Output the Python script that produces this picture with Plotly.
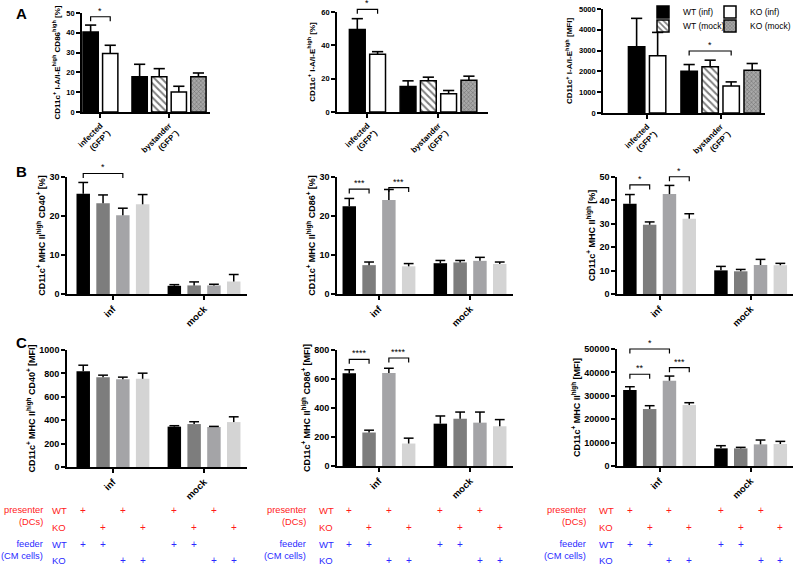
import plotly.graph_objects as go

W, H = 795, 568
FONT = "Liberation Sans, Arial, Helvetica, sans-serif"

# ---------------- data: row A ----------------
A_categories = ["infected<br>(GFP<sup>+</sup>)", "bystander<br>(GFP<sup>−</sup>)"]
A_series = ["WT (inf)", "WT (mock)", "KO (inf)", "KO (mock)"]

A1_means = [[40.4, 17.8], [None, 17.8], [29.5, 10.1], [None, 17.8]]
A1_sem = [[3.5, 6.3], [None, 4.1], [4.2, 2.9], [None, 1.9]]
A2_means = [[49.5, 15.3], [None, 18.7], [34.6, 10.9], [None, 19.1]]
A2_sem = [[6.5, 3.4], [None, 2.2], [1.6, 2.0], [None, 2.4]]
A3_means = [[3180, 2010], [None, 2220], [2750, 1300], [None, 2060]]
A3_sem = [[1370, 320], [None, 320], [1125, 195], [None, 320]]

A_titles = [
    "CD11c<sup>+</sup> I-A/I-E<sup>high</sup> CD86<sup>high</sup> [%]",
    "CD11c<sup>+</sup> I-A/I-E<sup>high</sup> [%]",
    "CD11c<sup>+</sup> I-A/I-E<sup>high</sup> [MFI]",
]

# ---------------- data: rows B and C ----------------
BC_categories = ["inf", "mock"]
BC_presenter = ["WT", "KO", "WT", "KO"]
BC_feeder = ["WT", "WT", "KO", "KO"]

B1_means = [[25.7, 2.1], [23.3, 2.2], [20.2, 2.2], [23.0, 3.2]]
B1_sem = [[2.9, 0.3], [2.1, 0.9], [1.8, 0.3], [2.5, 1.8]]
B2_means = [[22.5, 7.9], [7.4, 8.1], [24.1, 8.5], [7.1, 7.7]]
B2_sem = [[2.0, 0.7], [0.8, 0.5], [2.7, 0.9], [0.7, 0.5]]
B3_means = [[38.6, 10.1], [29.6, 9.7], [42.7, 12.4], [32.2, 12.3]]
B3_sem = [[3.9, 1.7], [1.2, 0.8], [3.7, 2.4], [2.1, 0.8]]
C1_means = [[819, 345], [768, 367], [749, 342], [754, 384]]
C1_sem = [[51, 8], [17, 20], [19, 5], [48, 45]]
C2_means = [[639, 292], [231, 326], [642, 299], [155, 274]]
C2_sem = [[25, 53], [16, 46], [32, 73], [37, 46]]
C3_means = [[32460, 7540], [24340, 7540], [36440, 9250], [26050, 9400]]
C3_sem = [[1420, 1140], [1430, 430], [1990, 1850], [1000, 1130]]

BC_titles = [
    "CD11c<sup>+</sup> MHC II<sup>high</sup> CD40<sup>+</sup> [%]",
    "CD11c<sup>+</sup> MHC II<sup>high</sup> CD86<sup>+</sup> [%]",
    "CD11c<sup>+</sup> MHC II<sup>high</sup> [%]",
    "CD11c<sup>+</sup> MHC II<sup>high</sup> CD40<sup>+</sup> [MFI]",
    "CD11c<sup>+</sup> MHC II<sup>high</sup> CD86<sup>+</sup> [MFI]",
    "CD11c<sup>+</sup> MHC II<sup>high</sup> [MFI]",
]

# significance: (panel, category index, series a, series b, bracket height, label)
significance = [
    ("A1", 0, 0, 2, 48.1, "*"),
    ("A2", 0, 0, 2, 61.6, "*"),
    ("A3", 1, 0, 2, 2980, "*"),
    ("B1", 0, 0, 2, 30.9, "*"),
    ("B2", 0, 0, 1, 26.9, "***"),
    ("B2", 0, 2, 3, 27.3, "***"),
    ("B3", 0, 0, 1, 46.6, "*"),
    ("B3", 0, 2, 3, 50.1, "*"),
    ("C2", 0, 0, 1, 736, "****"),
    ("C2", 0, 2, 3, 745, "****"),
    ("C3", 0, 0, 2, 50000, "*"),
    ("C3", 0, 0, 1, 39200, "**"),
    ("C3", 0, 2, 3, 42000, "***"),
]

# ---------------- layout constants ----------------
A_CAT_X = [0.0, 3.5]
BC_CAT_X = [0.0, 4.6]
PANELS = {
    "A1": dict(ax=1, box=(82, 210, 13, 112), xr=(-0.94, 5.59), yr=(0, 50), dtick=10),
    "A2": dict(ax=2, box=(337, 488, 12, 112), xr=(-1.50, 5.94), yr=(0, 60), dtick=20),
    "A3": dict(ax=3, box=(603, 765, 9, 113), xr=(-2.10, 5.61), yr=(0, 5000), dtick=1000),
    "B1": dict(ax=4, box=(67, 247, 177, 294), xr=(-2.32, 6.77), yr=(0, 30), dtick=10),
    "B2": dict(ax=5, box=(337, 513, 177, 294), xr=(-2.12, 6.77), yr=(0, 30), dtick=10),
    "B3": dict(ax=6, box=(617, 793, 177, 294), xr=(-2.15, 6.74), yr=(0, 50), dtick=10),
    "C1": dict(ax=7, box=(67, 247, 350, 467), xr=(-2.32, 6.77), yr=(0, 1000), dtick=200),
    "C2": dict(ax=8, box=(337, 513, 350, 466), xr=(-2.12, 6.77), yr=(0, 800), dtick=200),
    "C3": dict(ax=9, box=(617, 793, 349, 466), xr=(-2.15, 6.74), yr=(0, 50000), dtick=10000),
}
BC_COLORS = ["#000000", "#7d7d7d", "#a4a4a7", "#d4d4d4"]
A_STYLES = [
    dict(color="#000000", line=dict(color="black", width=1.5)),
    dict(color="white", line=dict(color="black", width=1.5),
         pattern=dict(shape="\\", fgcolor="black", bgcolor="white", size=5, solidity=0.4)),
    dict(color="white", line=dict(color="black", width=1.5)),
    dict(color="#8c8c8c", line=dict(color="black", width=1.5),
         pattern=dict(shape="x", fgcolor="#3a3a3a", bgcolor="#a8a8a8", size=3, solidity=0.35)),
]
A_LEGENDS = ["legend", "legend3", "legend2", "legend4"]


def ids(p):
    i = PANELS[p]["ax"]
    s = "" if i == 1 else str(i)
    return "x" + s, "y" + s, s


def ypaper(p, v):
    x0, x1, yt, yb = PANELS[p]["box"]
    r0, r1 = PANELS[p]["yr"]
    py = yb - (v - r0) / (r1 - r0) * (yb - yt)
    return 1 - py / H


def a_positions(means):
    pos = [[None] * len(A_categories) for _ in means]
    for c in range(len(A_categories)):
        present = [s for s in range(len(means)) if means[s][c] is not None]
        n = len(present)
        for k, s in enumerate(present):
            pos[s][c] = A_CAT_X[c] + (k - (n - 1) / 2)
    return pos


def bc_positions(means):
    n = len(means)
    return [[BC_CAT_X[c] + (s - (n - 1) / 2) for c in range(len(BC_categories))] for s in range(n)]


fig = go.Figure()
positions = {}

# ---- row A bars ----
for p, means, sems in [("A1", A1_means, A1_sem), ("A2", A2_means, A2_sem), ("A3", A3_means, A3_sem)]:
    xa, ya, _ = ids(p)
    pos = a_positions(means)
    positions[p] = pos
    capx, capy = [], []
    for s in range(len(means)):
        xs = [pos[s][c] for c in range(len(A_categories)) if means[s][c] is not None]
        ys = [means[s][c] for c in range(len(A_categories)) if means[s][c] is not None]
        es = [sems[s][c] for c in range(len(A_categories)) if means[s][c] is not None]
        fig.add_trace(go.Bar(
            x=xs, y=ys, width=0.78, xaxis=xa, yaxis=ya, name=A_series[s],
            marker=A_STYLES[s], showlegend=(p == "A3"), legend=A_LEGENDS[s],
            error_y=dict(type="data", symmetric=False, array=es, arrayminus=[0] * len(es),
                         width=0, thickness=1.6, color="black"),
            hoverinfo="skip"))
        capx += xs
        capy += [y + e for y, e in zip(ys, es)]
    fig.add_trace(go.Scatter(x=capx, y=capy, xaxis=xa, yaxis=ya, mode="markers", showlegend=False,
                             marker=dict(symbol="line-ew", size=8, line=dict(width=1.6, color="black")),
                             hoverinfo="skip"))

# ---- rows B, C bars ----
for p, means, sems in [("B1", B1_means, B1_sem), ("B2", B2_means, B2_sem), ("B3", B3_means, B3_sem),
                       ("C1", C1_means, C1_sem), ("C2", C2_means, C2_sem), ("C3", C3_means, C3_sem)]:
    xa, ya, _ = ids(p)
    pos = bc_positions(means)
    positions[p] = pos
    capx, capy = [], []
    for s in range(len(means)):
        fig.add_trace(go.Bar(
            x=pos[s], y=means[s], width=0.68, xaxis=xa, yaxis=ya, showlegend=False,
            marker=dict(color=BC_COLORS[s], line=dict(width=0)),
            error_y=dict(type="data", symmetric=False, array=sems[s], arrayminus=[0] * len(sems[s]),
                         width=0, thickness=1.5, color="black"),
            hoverinfo="skip"))
        capx += pos[s]
        capy += [y + e for y, e in zip(means[s], sems[s])]
    fig.add_trace(go.Scatter(x=capx, y=capy, xaxis=xa, yaxis=ya, mode="markers", showlegend=False,
                             marker=dict(symbol="line-ew", size=7, line=dict(width=1.5, color="black")),
                             hoverinfo="skip"))

# ---- axes ----
layout = dict(width=W, height=H, margin=dict(l=0, r=0, t=0, b=0, autoexpand=False),
              paper_bgcolor="white", plot_bgcolor="white", font=dict(family=FONT, color="black"),
              barmode="overlay", showlegend=True)
titles = dict(zip(["A1", "A2", "A3"], A_titles))
titles.update(dict(zip(["B1", "B2", "B3", "C1", "C2", "C3"], BC_titles)))
for p, cfg in PANELS.items():
    xa, ya, s = ids(p)
    x0, x1, yt, yb = cfg["box"]
    isA = p.startswith("A")
    tfs = 7.5 if isA else 9
    if isA:
        tickvals, ticktext = A_CAT_X, A_categories
    else:
        tickvals, ticktext = BC_CAT_X, BC_categories
    layout["xaxis" + s] = dict(
        domain=[x0 / W, x1 / W], anchor=ya, range=list(cfg["xr"]), showgrid=False, zeroline=False,
        showline=True, linecolor="black", linewidth=1.6, ticks="outside", ticklen=4, tickwidth=1.5,
        tickcolor="black", tickvals=tickvals, ticktext=ticktext, tickangle=-45, automargin=False,
        tickfont=dict(size=8 if isA else 9.5, weight="bold", color="black"), fixedrange=True)
    r0, r1 = cfg["yr"]
    layout["yaxis" + s] = dict(
        domain=[1 - yb / H, 1 - yt / H], anchor=xa, range=[r0, r1], showgrid=False, zeroline=False,
        showline=True, linecolor="black", linewidth=1.6, ticks="outside", ticklen=4, tickwidth=1.5,
        tickcolor="black", tick0=0, dtick=cfg["dtick"], automargin=False, tickformat="d",
        tickfont=dict(size=tfs, weight="bold", color="black"),
        title=dict(text=titles[p], standoff=5 if isA else 2,
                   font=dict(size=8 if isA else 9, weight="bold", color="black")),
        fixedrange=True)

# ---- legends (A3) ----
legend_pos = {"legend": (643, 12), "legend2": (710, 12), "legend3": (643, 26), "legend4": (710, 26)}
for key, (lx, ly) in legend_pos.items():
    layout[key] = dict(x=lx / W, y=1 - ly / H, xanchor="left", yanchor="middle",
                       bgcolor="rgba(0,0,0,0)", font=dict(size=8.5, color="black"), itemwidth=30)

shapes, annotations = [], []
# ---- significance brackets ----
LEG = 4.5
for p, c, a, b, yv, label in significance:
    xa, ya, _ = ids(p)
    xa_pos = positions[p][a][c]
    xb_pos = positions[p][b][c]
    yt = ypaper(p, yv)
    yl = yt - LEG / H
    shapes.append(dict(type="path", xref=xa, yref="paper",
                       path=f"M {xa_pos},{yl} L {xa_pos},{yt} L {xb_pos},{yt} L {xb_pos},{yl}",
                       line=dict(color="black", width=1.2)))
    annotations.append(dict(x=(xa_pos + xb_pos) / 2, y=yt, xref=xa, yref="paper", text=label,
                            showarrow=False, xanchor="center", yanchor="bottom", borderpad=0,
                            font=dict(size=9, color="black")))

# ---- panel letters ----
for letter, (lx, ly) in {"A": (21, 14), "B": (21, 171), "C": (21, 342)}.items():
    annotations.append(dict(x=lx / W, y=1 - ly / H, xref="paper", yref="paper", text=f"<b>{letter}</b>",
                            showarrow=False, xanchor="center", yanchor="middle", font=dict(size=15)))

# ---- condition table under row C ----
RED, BLUE = "#ff1a1a", "#2a2aff"
ROW_Y = {("presenter", "WT"): 510, ("presenter", "KO"): 527, ("feeder", "WT"): 544, ("feeder", "KO"): 560}
GROUP_Y = {"presenter": 504, "feeder": 538}
COLS = {"C1": (44, 50), "C2": (307, 317), "C3": (587, 597)}
for p, (right_x, left_x) in COLS.items():
    xa, ya, _ = ids(p)
    for grp, label, col in [("presenter", "presenter<br>(DCs)", RED), ("feeder", "feeder<br>(CM cells)", BLUE)]:
        annotations.append(dict(x=right_x / W, y=1 - GROUP_Y[grp] / H, xref="paper", yref="paper",
                                text=label, showarrow=False, xanchor="right", yanchor="top", align="right",
                                borderpad=0, font=dict(size=9.3, color=col)))
    for (grp, gt), yy in ROW_Y.items():
        annotations.append(dict(x=left_x / W, y=1 - yy / H, xref="paper", yref="paper", text=gt,
                                showarrow=False, xanchor="left", yanchor="middle",
                                font=dict(size=9.5, color=RED if grp == "presenter" else BLUE)))
    pos = positions[p]
    for c in range(len(BC_categories)):
        for s in range(len(BC_presenter)):
            for grp, val, col in [("presenter", BC_presenter[s], RED), ("feeder", BC_feeder[s], BLUE)]:
                annotations.append(dict(x=pos[s][c], y=1 - ROW_Y[(grp, val)] / H, xref=xa, yref="paper",
                                        text="+", showarrow=False, xanchor="center", yanchor="middle",
                                        font=dict(size=10, color=col)))

layout["shapes"] = shapes
layout["annotations"] = annotations
fig.update_layout(**layout)
fig.write_html("out.html", config={"displayModeBar": False},
               post_script="document.body.style.margin='0';document.body.style.padding='0';")
